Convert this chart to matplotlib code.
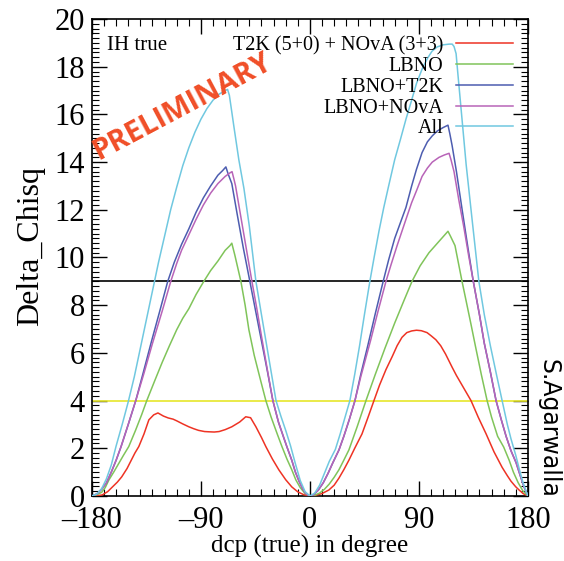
import matplotlib
matplotlib.use("Agg")
import matplotlib.pyplot as plt
from matplotlib.ticker import MultipleLocator

# ---------------- data ----------------
red_x = [-180, -176, -171.6, -167, -163, -159, -155.4, -151, -148, -144.5, -141.3, -137, -133, -129, -125.5,
         -121, -117, -113, -110, -105, -100, -96, -92, -87, -83.5, -79, -75, -70, -64.5, -58, -53, -49,
         -44.6, -40, -36.4, -31, -25.6, -20, -15, -10, -5, 0,
         5, 10, 15.7, 20, 24, 28, 32.2, 37, 43, 48, 52.9, 57.5, 62.8, 68, 72, 76, 80, 84, 88, 92, 96.7,
         100, 104, 108, 112, 117.4, 121, 125, 129, 133, 139, 145.5, 152, 158.7, 163, 166, 170, 172.7, 176, 180]
red_y = [0, 0.01, 0.04, 0.18, 0.38, 0.58, 0.8, 1.15, 1.45, 1.8, 2.07, 2.6, 3.19, 3.4, 3.48,
         3.35, 3.27, 3.22, 3.15, 3.02, 2.9, 2.82, 2.75, 2.7, 2.69, 2.68, 2.7, 2.78, 2.9, 3.1, 3.32, 3.28,
         2.9, 2.45, 2.07, 1.55, 1.09, 0.68, 0.38, 0.17, 0.05, 0,
         0.03, 0.1, 0.25, 0.45, 0.75, 1.1, 1.5, 2.0, 2.6, 3.3, 4.0, 4.65, 5.3, 5.85, 6.3, 6.65, 6.85, 6.92, 6.95, 6.93, 6.85,
         6.72, 6.55, 6.3, 5.95, 5.4, 5.05, 4.7, 4.35, 4.0, 3.3, 2.6, 1.85, 1.2, 0.85, 0.62, 0.38, 0.25, 0.1, 0]

green_x = [-180, -176, -172, -169, -166, -162, -158, -154, -149.6, -144, -139, -134.7, -128, -122, -116, -110,
           -105, -100, -94, -87.6, -82, -76, -70, -66, -64.5, -62, -57, -53.5, -50.4, -46, -41, -36.4, -32,
           -27, -23.1, -19, -15, -11.6, -8, -4, 0,
           4, 8, 12, 16, 20, 24, 28, 32.2, 39, 46.3, 54, 62, 70, 77.7, 84.3, 91, 98.3, 107, 114, 116, 119.8,
           122.5, 125.6, 128.9, 133, 137, 141.5, 146.3, 150, 155, 160, 164.5, 168, 172, 176, 180]
green_y = [0, 0.05, 0.15, 0.35, 0.67, 1.0, 1.35, 1.7, 2.07, 2.75, 3.4, 4.0, 4.85, 5.6, 6.3, 6.97,
           7.45, 7.85, 8.45, 9.0, 9.45, 9.85, 10.3, 10.5, 10.6, 10.1, 9.0, 8.0, 6.97, 5.9, 4.9, 4.0, 3.3,
           2.6, 2.07, 1.55, 1.1, 0.67, 0.35, 0.1, 0,
           0.03, 0.12, 0.28, 0.5, 0.78, 1.1, 1.5, 1.93, 2.9, 4.0, 5.1, 6.2, 7.25, 8.2, 9.0, 9.65, 10.2, 10.7, 11.1, 10.9, 10.5,
           9.8, 9.0, 8.2, 7.2, 6.2, 5.1, 4.0, 3.3, 2.5, 2.05, 1.5, 1.0, 0.55, 0.2, 0]

blue_x = [-180, -176, -172, -168, -164, -160, -156, -150, -143.8, -138, -131, -124, -117.4, -112, -106, -100,
          -94, -88, -82, -76, -72, -69.4, -67.5, -64.5, -60, -55, -49.6, -45, -40, -35, -30.6, -26, -22,
          -19, -15, -12, -9, -6, -3, 0,
          3, 7, 11, 15, 19, 24, 28, 32.5, 37.2, 42, 48, 54, 60.5, 65, 70, 75, 79.3, 84, 88, 92.6, 97, 101,
          105, 110, 114, 115.5, 117.4, 121, 126, 130.5, 134.9, 140, 144, 149, 153.7, 158, 162, 166, 170.2,
          174, 177, 180]
blue_y = [0, 0.08, 0.28, 0.55, 1.0, 1.5, 2.06, 3.0, 4.0, 5.1, 6.45, 7.75, 9.0, 9.8, 10.55, 11.2,
          11.9, 12.5, 13.0, 13.45, 13.65, 13.8, 13.5, 13.1, 11.8, 10.4, 9.0, 7.8, 6.5, 5.2, 4.0, 3.1, 2.5,
          2.06, 1.5, 1.0, 0.62, 0.3, 0.08, 0,
          0.05, 0.25, 0.55, 0.95, 1.4, 1.93, 2.5, 3.2, 4.0, 5.1, 6.35, 7.65, 9.0, 9.9, 10.8, 11.5, 12.1, 13.0, 13.7, 14.4, 14.85, 15.1,
          15.3, 15.45, 15.55, 15.2, 14.7, 13.6, 11.9, 10.4, 9.0, 7.6, 6.4, 5.2, 4.0, 3.2, 2.5, 1.9, 1.4,
          0.8, 0.35, 0]

mag_x = [-180, -176, -172, -168, -164, -160, -156, -150, -143.8, -137, -130, -122, -114.9, -110, -106, -100,
         -94, -88, -82, -76, -70, -66, -64.3, -62.8, -61.4, -55, -47.9, -44, -40, -35, -30.6, -26, -22,
         -19, -15, -12, -9, -6, -3, 0,
         3, 7, 11, 15, 19, 24, 28, 32.5, 37.2, 42, 50, 56, 62.8, 67, 72, 79.3, 84, 88, 92.6, 97, 101,
         106.6, 111, 114.9, 116.5, 119, 123, 127, 131, 134.9, 140, 144, 149, 153.7, 158, 162, 166, 170.2,
         174, 177, 180]
mag_y = [0, 0.08, 0.28, 0.55, 1.0, 1.5, 2.06, 3.0, 4.0, 5.15, 6.4, 7.75, 9.0, 9.75, 10.3, 10.95,
         11.6, 12.2, 12.7, 13.1, 13.4, 13.55, 13.6, 13.3, 13.0, 11.1, 9.0, 7.9, 6.7, 5.25, 4.0, 3.1, 2.5,
         2.06, 1.5, 1.0, 0.62, 0.3, 0.08, 0,
         0.05, 0.25, 0.55, 0.95, 1.4, 1.93, 2.5, 3.2, 4.0, 5.0, 6.5, 7.7, 9.0, 9.7, 10.5, 11.6, 12.3, 12.8, 13.4, 13.75, 14.0,
         14.2, 14.3, 14.37, 14.1, 13.6, 12.4, 11.3, 10.1, 9.0, 7.6, 6.4, 5.2, 4.0, 3.2, 2.5, 1.9, 1.4,
         0.8, 0.35, 0]

cyan_x = [-180, -176, -172, -168, -164, -160, -155, -150, -145, -140, -135, -130, -125, -120, -115, -110,
          -105, -100, -95, -90, -85, -80, -75, -70, -68, -66.5, -64.5, -62.8, -58.7, -54.5, -50, -44.6,
          -40, -36, -32, -28, -24, -20, -16, -12, -8, -4, 0,
          4, 8, 12, 16, 21, 25, 29, 33, 37, 41, 45, 49.5, 53, 57, 61, 65, 70, 75, 79.3, 84, 88, 92.6, 97,
          100.8, 105, 110, 115, 117.5, 119, 120.7, 122, 125.6, 129, 133.9, 139.5, 144, 149, 154, 158.7,
          163, 166, 170, 173, 176, 180]
cyan_y = [0, 0.08, 0.3, 0.72, 1.3, 2.1, 3.0, 3.95, 5.0, 6.2, 7.4, 8.6, 9.8, 10.9, 12.0, 12.95,
          13.85, 14.6, 15.25, 15.8, 16.25, 16.6, 16.85, 17.0, 17.05, 16.8, 16.1, 15.5, 14.1, 12.9, 11.3, 9.0,
          7.6, 6.4, 5.2, 4.0, 3.35, 2.75, 2.1, 1.35, 0.65, 0.18, 0,
          0.12, 0.45, 0.95, 1.45, 1.95, 2.6, 3.3, 4.0, 5.1, 6.3, 7.6, 9.0, 10.0, 11.1, 12.1, 13.0, 14.1, 15.0, 15.8, 16.6, 17.3, 17.9, 18.35,
          18.65, 18.83, 18.92, 18.95, 18.95, 18.85, 18.55, 17.8, 15.8, 13.9, 11.6, 9.0, 7.6, 6.3, 5.1, 4.0,
          3.0, 2.4, 1.7, 1.1, 0.55, 0]

labels = ["T2K (5+0) + NOvA (3+3)", "LBNO", "LBNO+T2K", "LBNO+NOvA", "All"]
colors = ["#ee3324", "#80c45a", "#4d5db0", "#b864b8", "#70c8e0"]
x_ticks = [-180, -90, 0, 90, 180]
x_ticklabels = ["\u2013180", "\u201390", "0", "90", "180"]
y_ticks = list(range(0, 21, 2))
line_9 = 9
line_4 = 4

# ---------------- figure ----------------
plt.rcParams['font.family'] = ['Liberation Serif', 'DejaVu Serif']

fig = plt.figure(figsize=(5.64, 5.61), dpi=100)
ax = fig.add_axes([0.163, 0.116, 0.773, 0.850])

series = [(red_x, red_y), (green_x, green_y), (blue_x, blue_y), (mag_x, mag_y), (cyan_x, cyan_y)]
for (xs, ys), lab, c in zip(series, labels, colors):
    ax.plot(xs, ys, color=c, lw=1.1, label=lab, zorder=3, solid_joinstyle='round')

ax.axhline(line_9, color='black', lw=1.2, zorder=2)
ax.axhline(line_4, color='#e6e62a', lw=1.2, zorder=2)

ax.set_xlim(-180, 180)
ax.set_ylim(0, 20)
ax.set_xticks(x_ticks)
ax.set_xticklabels(x_ticklabels)
ax.set_yticks(y_ticks)
ax.xaxis.set_minor_locator(MultipleLocator(10))
ax.yaxis.set_minor_locator(MultipleLocator(0.2))
ax.tick_params(which='both', direction='in', top=True, right=True, labelsize=22, colors='black')
ax.tick_params(which='major', length=11, width=1)
ax.tick_params(which='minor', length=5, width=0.8)
ax.tick_params(axis='x', pad=7)
ax.tick_params(axis='y', pad=5)
for s in ax.spines.values():
    s.set_linewidth(1.2)

ax.set_xlabel("dcp (true) in degree", fontsize=18, labelpad=0)
ax.set_ylabel("Delta_Chisq", fontsize=23)
ax.yaxis.set_label_coords(-0.107, 0.524)

leg = ax.legend(loc='upper right', bbox_to_anchor=(0.966, 0.964), frameon=False,
                markerfirst=False, fontsize=14.5, handlelength=2.85, handletextpad=0.6,
                labelspacing=0.08, borderpad=0, borderaxespad=0)

ax.text(0.034, 0.945, "IH true", transform=ax.transAxes, fontsize=15,
        ha='left', va='center')

ax.text(0.207, 0.815, "PRELIMINARY", transform=ax.transAxes, fontsize=21,
        fontweight='bold', family=['Open Sans', 'DejaVu Sans'], color='#f04e27',
        rotation=28, ha='center', va='center', zorder=5)

fig.text(0.972, 0.237, "S.Agarwalla", fontsize=17, family=['DejaVu Sans'],
         rotation=270, ha='center', va='center')

fig.savefig("out.png", dpi=100)
